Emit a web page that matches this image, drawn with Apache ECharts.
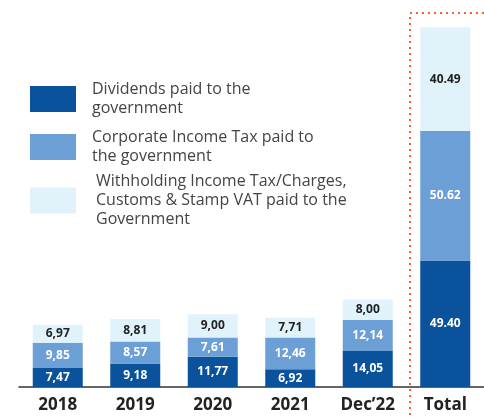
<!DOCTYPE html>
<html>
<head>
<meta charset="utf-8">
<script src="https://cdn.jsdelivr.net/npm/echarts@6/dist/echarts.min.js"></script>
<style>
  html, body { margin: 0; padding: 0; background: #fff; }
  #chart { width: 484px; height: 418px; }
</style>
</head>
<body>
<div id="chart"></div>
<script>
  // values (years use comma decimals, total uses dot)
  var categories = ['2018', '2019', '2020', '2021', 'Dec\u201922', 'Total'];
  var dividends = [7.47, 9.18, 11.77, 6.92, 14.05, 49.40];
  var corporateTax = [9.85, 8.57, 7.61, 12.46, 12.14, 50.62];
  var withholding = [6.97, 8.81, 9.00, 7.71, 8.00, 40.49];
  var seriesNames = [
    'Dividends paid to the\ngovernment',
    'Corporate Income Tax paid to\nthe government',
    'Withholding Income Tax/Charges,\nCustoms & Stamp VAT paid to the\nGovernment'
  ];
  var colors = ['#0a529b', '#6b9fd5', '#e0f3fb'];

  var chart = echarts.init(document.getElementById('chart'));

  function fmt(p) {
    var s = p.value.toFixed(2);
    return p.dataIndex === categories.length - 1 ? s : s.replace('.', ',');
  }

  function makeSeries(name, data, color, labelColor) {
    return {
      name: name,
      type: 'bar',
      stack: 'all',
      barWidth: 50,
      data: data,
      itemStyle: { color: color },
      label: {
        show: true,
        position: 'inside',
        formatter: fmt,
        color: labelColor,
        fontFamily: 'Open Sans',
        fontWeight: 'bold',
        fontSize: 12
      }
    };
  }

  function legendAt(idx, top, padLeft) {
    return {
      data: [seriesNames[idx]],
      orient: 'vertical',
      left: 25,
      top: top,
      itemWidth: 46,
      itemHeight: 26,
      icon: 'rect',
      selectedMode: false,
      textStyle: {
        fontFamily: 'Open Sans',
        fontSize: 16,
        lineHeight: 19,
        color: '#444',
        padding: [0, 0, 0, padLeft]
      }
    };
  }

  chart.setOption({
    animation: false,
    grid: { left: 19, right: -5, top: 3, bottom: 31 },
    legend: [legendAt(0, 75, 11), legendAt(1, 123, 11), legendAt(2, 167, 15)],
    xAxis: {
      type: 'category',
      data: categories,
      axisTick: { show: false },
      axisLine: { lineStyle: { color: '#333', width: 1.5 } },
      axisLabel: {
        color: '#222',
        fontFamily: 'Open Sans',
        fontWeight: 'bold',
        fontSize: 17,
        margin: 10
      }
    },
    yAxis: {
      type: 'value',
      min: 0,
      max: 150,
      show: false
    },
    series: [
      makeSeries(seriesNames[0], dividends, colors[0], '#fff'),
      makeSeries(seriesNames[1], corporateTax, colors[1], '#fff'),
      makeSeries(seriesNames[2], withholding, colors[2], '#222')
    ],
    graphic: [{
      type: 'polyline',
      shape: { points: [[490, 13], [410, 13], [410, 420]] },
      style: { stroke: '#f0632a', lineWidth: 2, lineDash: [2, 4], fill: null },
      silent: true
    }]
  });
</script>
</body>
</html>
